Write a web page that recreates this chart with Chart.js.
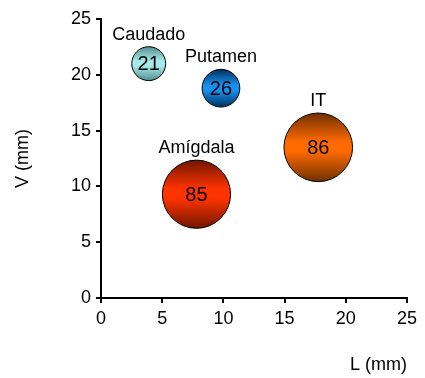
<!DOCTYPE html>
<html>
<head>
<meta charset="utf-8">
<script src="https://cdn.jsdelivr.net/npm/chart.js@4/dist/chart.umd.min.js"></script>
<style>
  html, body { margin: 0; padding: 0; background: #fff; }
  #wrap { width: 425px; height: 378px; }
</style>
</head>
<body>
<div id="wrap"><canvas id="c" width="425" height="378"></canvas></div>
<script>
// Data
const regions = ["Caudado", "Putamen", "IT", "Amígdala"];
const lValues = [3.9, 9.8, 17.75, 7.8];     // L (mm)
const vValues = [21.0, 18.8, 13.5, 9.3];    // V (mm)
const counts  = [21, 26, 86, 85];           // number shown in each bubble
const axisTicks = [0, 5, 10, 15, 20, 25];

// colours: [edge (dark), middle (bright)]
const bubbleColors = [
  ["#548f90", "#a6eaea"],
  ["#00305e", "#1890ee"],
  ["#6e3000", "#ff6a00"],
  ["#701600", "#ff3300"]
];

const FONT = "'Liberation Sans', Arial, sans-serif";

const points = regions.map((name, i) => ({
  x: lValues[i], y: vValues[i], r: 3.7 * Math.sqrt(counts[i])
}));

// apply a vertical dark-bright-dark gradient to each bubble
const gradientPlugin = {
  id: 'bubbleGradient',
  beforeDatasetsDraw(chart) {
    const ctx = chart.ctx;
    const meta = chart.getDatasetMeta(0);
    meta.data.forEach((el, i) => {
      const r = el.options.radius;
      if (!isFinite(el.y) || !isFinite(r)) return;
      const g = ctx.createLinearGradient(0, el.y - r, 0, el.y + r);
      const c = bubbleColors[i];
      g.addColorStop(0, c[0]);
      g.addColorStop(0.42, c[1]);
      g.addColorStop(0.56, c[1]);
      g.addColorStop(1, c[0]);
      el.options.backgroundColor = g;
    });
  }
};

const labelPlugin = {
  id: 'bubbleLabels',
  afterDatasetsDraw(chart) {
    const ctx = chart.ctx;
    const meta = chart.getDatasetMeta(0);
    ctx.save();
    ctx.textAlign = 'center';
    ctx.textBaseline = 'middle';
    ctx.fillStyle = '#000';
    meta.data.forEach((el, i) => {
      const r = el.options.radius;
      ctx.font = "20px " + FONT;
      ctx.fillText(String(counts[i]), el.x, el.y + 1);
      ctx.font = "18px " + FONT;
      ctx.fillText(regions[i], el.x, el.y - r - 12);
    });
    ctx.restore();
  }
};

new Chart(document.getElementById('c'), {
  type: 'bubble',
  data: {
    datasets: [{
      data: points,
      backgroundColor: bubbleColors.map(c => c[1]),
      borderColor: '#000',
      borderWidth: 1,
      hoverBorderWidth: 1
    }]
  },
  options: {
    responsive: false,
    animation: false,
    events: [],
    layout: { autoPadding: false, padding: { top: 19, right: 18, left: 0, bottom: 0 } },
    plugins: { legend: { display: false }, tooltip: { enabled: false } },
    scales: {
      x: {
        type: 'linear',
        min: 0, max: 25,
        afterBuildTicks(scale) { scale.ticks = axisTicks.map(v => ({ value: v })); },
        afterFit(scale) { scale.height = 80; },
        border: { display: true, color: '#000', width: 2 },
        grid: { display: true, drawOnChartArea: false, drawTicks: true, tickLength: 5, color: '#000', lineWidth: 2 },
        ticks: { color: '#000', font: { family: FONT, size: 18 }, padding: 5, maxRotation: 0 },
        title: { display: true, text: 'L (mm)', align: 'end', color: '#000', font: { family: FONT, size: 18 }, padding: { top: 0, bottom: 2 } }
      },
      y: {
        type: 'linear',
        min: 0, max: 25,
        afterBuildTicks(scale) { scale.ticks = axisTicks.map(v => ({ value: v })); },
        afterFit(scale) { scale.width = 101; },
        border: { display: true, color: '#000', width: 2 },
        grid: { display: true, drawOnChartArea: false, drawTicks: true, tickLength: 5, color: '#000', lineWidth: 2 },
        ticks: { color: '#000', font: { family: FONT, size: 18 }, padding: 5 },
        title: { display: true, text: 'V (mm)', color: '#000', font: { family: FONT, size: 18 }, padding: { top: 12, bottom: 0 } }
      }
    }
  },
  plugins: [gradientPlugin, labelPlugin]
});
</script>
</body>
</html>
